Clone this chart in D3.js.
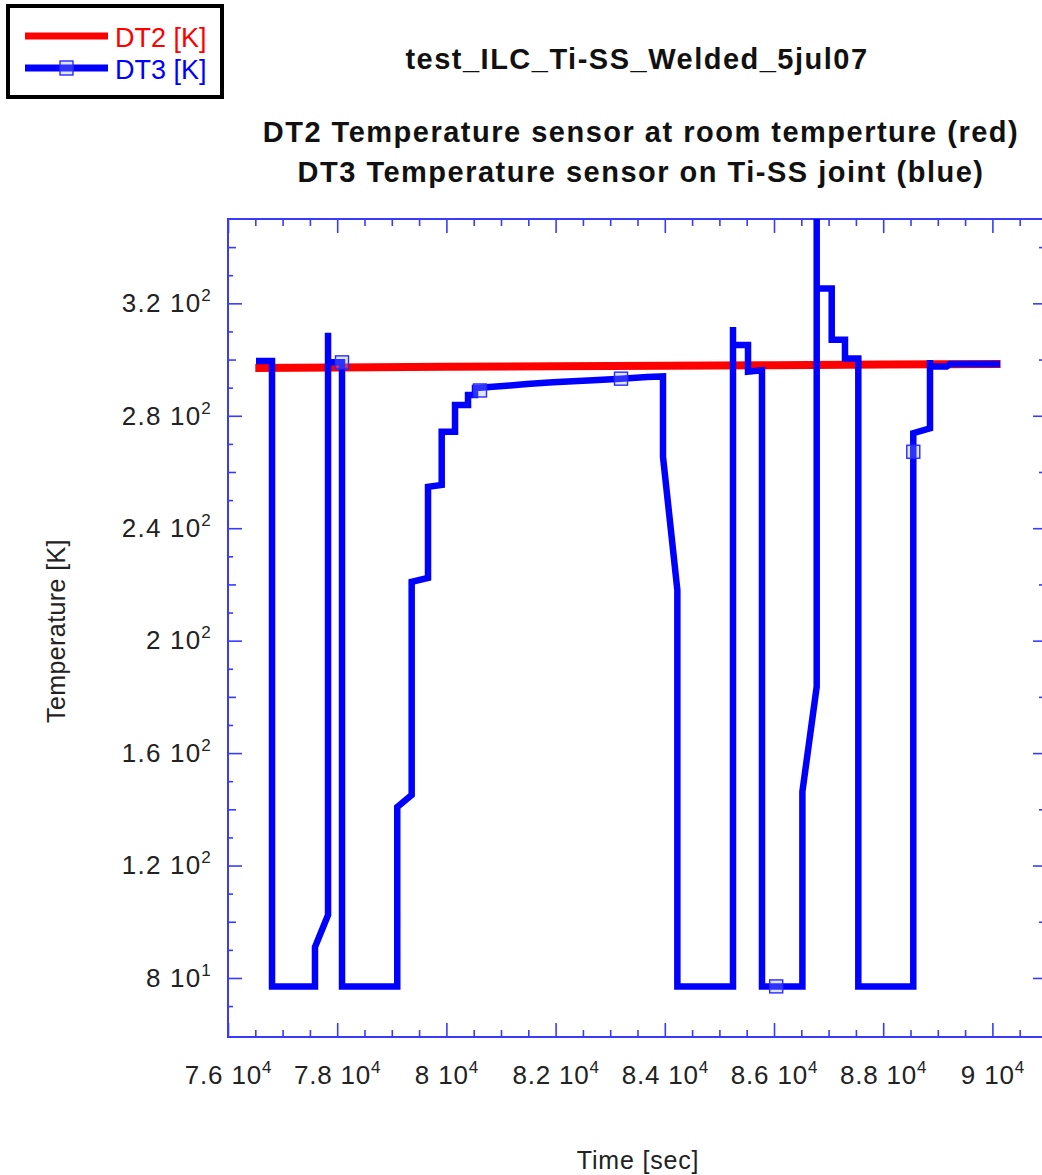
<!DOCTYPE html>
<html>
<head>
<meta charset="utf-8">
<script src="https://cdn.jsdelivr.net/npm/d3@7/dist/d3.min.js"></script>
<style>
  body { margin: 0; background: #ffffff; }
  svg { display: block; font-family: "Liberation Sans", Arial, sans-serif; }
</style>
</head>
<body>
<script>
// DT2: room temperature sensor (red)
const dt2Time = [76500, 78000, 80000, 82000, 84000, 86000, 88000, 90150];
const dt2Temp = [297.0, 297.2, 297.4, 297.6, 297.8, 298.0, 298.2, 298.4];

// DT3: sensor on the Ti-SS joint (blue)
const dt3Time = [
  76513, 76806, 76806, 77593, 77593, 77832, 77832, 77832, 78088, 78088,
  79100, 79100, 79364, 79364, 79663, 79663, 79914, 79914, 80158, 80158,
  80396, 80396, 80524, 80524, 80615, 80853, 81165, 81476, 81952, 82685,
  83198, 83674, 83967, 83967, 84230, 84230, 85249, 85249, 85249, 85524,
  85524, 85780, 85780, 86040, 86520, 86520, 86782, 86782, 86782, 87057,
  87057, 87300, 87300, 87544, 87544, 88551, 88551, 88551, 88857, 88857,
  88857, 89163, 89223, 90139
];
const dt3Temp = [
  299.5, 299.5, 77, 77, 91, 102.4, 309.5, 299, 299, 77,
  77, 140.8, 145.1, 220.9, 222.3, 254.7, 255.4, 274.3, 274.3, 283.8,
  283.8, 287.4, 287.4, 289.9, 290.0, 290.3, 290.8, 291.3, 291.9, 292.6,
  293.2, 293.8, 294.0, 265.4, 218, 77, 77, 311.6, 305.2, 305.2,
  295.7, 296.2, 77, 77, 77, 146.3, 183.6, 350, 325.3, 325.3,
  307, 307, 300.4, 300.4, 77, 77, 267.2, 273.8, 275.5, 299.8,
  297.5, 297.5, 298.4, 298.4
];
const dt3MarkTime = [78088, 80615, 83198, 86040, 88551];
const dt3MarkTemp = [299, 289.0, 293.2, 77, 267.2];

const xTicks = [76000, 78000, 80000, 82000, 84000, 86000, 88000, 90000];
const xTickLabels = [["7.6", "4"], ["7.8", "4"], ["8", "4"], ["8.2", "4"], ["8.4", "4"], ["8.6", "4"], ["8.8", "4"], ["9", "4"]];
const yTicks = [80, 120, 160, 200, 240, 280, 320];
const yTickLabels = [["8", "1"], ["1.2", "2"], ["1.6", "2"], ["2", "2"], ["2.4", "2"], ["2.8", "2"], ["3.2", "2"]];

const title = "test_ILC_Ti-SS_Welded_5jul07";
const subtitle = ["DT2 Temperature sensor at room temperture (red)", "DT3 Temperature sensor on Ti-SS joint (blue)"];
const legendNames = ["DT2 [K]", "DT3 [K]"];

const W = 1042, H = 1175;
const plotLeft = 228, plotRight = 1047, plotTop = 219, plotBottom = 1037;
const axisBlue = "#3a3aff";
const lineBlue = "#0000ff";
const lineRed = "#ff0000";

const svg = d3.select("body").append("svg").attr("width", W).attr("height", H);
svg.append("rect").attr("width", W).attr("height", H).attr("fill", "#fff");

const x = d3.scaleLinear().domain([76000, 91000]).range([plotLeft, plotRight]);
const y = d3.scaleLinear().domain([59, 350]).range([plotBottom, plotTop]);

function sciText(sel, labels, supShift) {
  sel.each(function (d, i) {
    const t = d3.select(this);
    t.text(null);
    t.append("tspan").text(labels[i][0] + " 10");
    t.append("tspan").attr("dy", supShift).attr("font-size", 17).text(labels[i][1]);
  });
}

function styleAxis(g) {
  g.select(".domain").remove();
  g.selectAll("line").attr("stroke", axisBlue).attr("stroke-width", 1.6);
}

const minorX = d3.range(76500, 91000, 500).filter((d) => d % 2000 !== 0);
const minorY = d3.range(70, 350, 10).filter((d) => d % 20 !== 0);
const midY = d3.range(100, 350, 40);

// bottom
svg.append("g").attr("transform", `translate(0,${plotBottom})`)
  .call(d3.axisBottom(x).tickValues(minorX).tickSize(-7).tickFormat(""))
  .call(styleAxis);
svg.append("g").attr("transform", `translate(0,${plotBottom})`)
  .call(d3.axisBottom(x).tickValues(xTicks).tickSize(-14).tickPadding(29))
  .call(styleAxis)
  .call((g) => g.selectAll(".tick text")
    .attr("font-size", 26).attr("fill", "#222").attr("letter-spacing", 0.8)
    .call(sciText, xTickLabels, -11));

// top
svg.append("g").attr("transform", `translate(0,${plotTop})`)
  .call(d3.axisTop(x).tickValues(minorX).tickSize(-7).tickFormat(""))
  .call(styleAxis);
svg.append("g").attr("transform", `translate(0,${plotTop})`)
  .call(d3.axisTop(x).tickValues(xTicks).tickSize(-14).tickFormat(""))
  .call(styleAxis);

// left
svg.append("g").attr("transform", `translate(${plotLeft},0)`)
  .call(d3.axisLeft(y).tickValues(minorY).tickSize(-5).tickFormat(""))
  .call(styleAxis);
svg.append("g").attr("transform", `translate(${plotLeft},0)`)
  .call(d3.axisLeft(y).tickValues(midY).tickSize(-8).tickFormat(""))
  .call(styleAxis);
svg.append("g").attr("transform", `translate(${plotLeft},0)`)
  .call(d3.axisLeft(y).tickValues(yTicks).tickSize(-14).tickPadding(16))
  .call(styleAxis)
  .call((g) => g.selectAll(".tick text")
    .attr("font-size", 26).attr("fill", "#222").attr("letter-spacing", 1.2)
    .call(sciText, yTickLabels, -11));

// right
svg.append("g").attr("transform", `translate(${plotRight},0)`)
  .call(d3.axisRight(y).tickValues(minorY).tickSize(-5).tickFormat(""))
  .call(styleAxis);
svg.append("g").attr("transform", `translate(${plotRight},0)`)
  .call(d3.axisRight(y).tickValues(midY).tickSize(-8).tickFormat(""))
  .call(styleAxis);
svg.append("g").attr("transform", `translate(${plotRight},0)`)
  .call(d3.axisRight(y).tickValues(yTicks).tickSize(-14).tickFormat(""))
  .call(styleAxis);

// frame
svg.append("rect")
  .attr("x", plotLeft).attr("y", plotTop)
  .attr("width", plotRight - plotLeft).attr("height", plotBottom - plotTop)
  .attr("fill", "none").attr("stroke", axisBlue).attr("stroke-width", 2);

const line = d3.line().x((d) => x(d[0])).y((d) => y(d[1]));

svg.append("path")
  .datum(dt2Time.map((t, i) => [t, dt2Temp[i]]))
  .attr("d", line)
  .attr("fill", "none").attr("stroke", lineRed).attr("stroke-width", 8);

svg.append("path")
  .datum(dt3Time.map((t, i) => [t, dt3Temp[i]]))
  .attr("d", line)
  .attr("fill", "none").attr("stroke", lineBlue).attr("stroke-width", 6.5)
  .attr("stroke-linejoin", "miter");

svg.append("g").selectAll("rect")
  .data(dt3MarkTime.map((t, i) => [t, dt3MarkTemp[i]]))
  .join("rect")
  .attr("x", (d) => x(d[0]) - 6.5).attr("y", (d) => y(d[1]) - 6.5)
  .attr("width", 13).attr("height", 13)
  .attr("fill", "rgba(150,165,255,0.3)").attr("stroke", "#2a2aff").attr("stroke-width", 1.4);

// titles
svg.append("text").attr("x", 637).attr("y", 69)
  .attr("text-anchor", "middle").attr("font-size", 29).attr("font-weight", "bold")
  .attr("letter-spacing", 1.5).attr("fill", "#111").text(title);
subtitle.forEach((s, i) => {
  svg.append("text").attr("x", 641).attr("y", 142 + i * 40)
    .attr("text-anchor", "middle").attr("font-size", 29).attr("font-weight", "bold")
    .attr("letter-spacing", 1.5).attr("fill", "#111").text(s);
});

svg.append("text").attr("x", 638).attr("y", 1169)
  .attr("text-anchor", "middle").attr("font-size", 25).attr("letter-spacing", 0.8)
  .attr("fill", "#222").text("Time [sec]");
svg.append("text")
  .attr("transform", "translate(65,631) rotate(-90)")
  .attr("text-anchor", "middle").attr("font-size", 25).attr("letter-spacing", 0.4)
  .attr("fill", "#222").text("Temperature [K]");

// legend
const legend = svg.append("g");
legend.append("rect").attr("x", 8).attr("y", 6).attr("width", 214).attr("height", 91)
  .attr("fill", "#fff").attr("stroke", "#000").attr("stroke-width", 4);
const legendColors = [lineRed, lineBlue];
legendNames.forEach((n, i) => {
  const ly = 36 + i * 32;
  legend.append("line").attr("x1", 25).attr("x2", 108).attr("y1", ly).attr("y2", ly)
    .attr("stroke", legendColors[i]).attr("stroke-width", 7);
  legend.append("text").attr("x", 115).attr("y", ly + 11)
    .attr("font-size", 27).attr("fill", legendColors[i]).text(n);
});
legend.append("rect").attr("x", 60).attr("y", 61).attr("width", 13).attr("height", 14)
  .attr("fill", "rgba(150,165,255,0.3)").attr("stroke", "#2a2aff").attr("stroke-width", 1.4);
</script>
</body>
</html>
